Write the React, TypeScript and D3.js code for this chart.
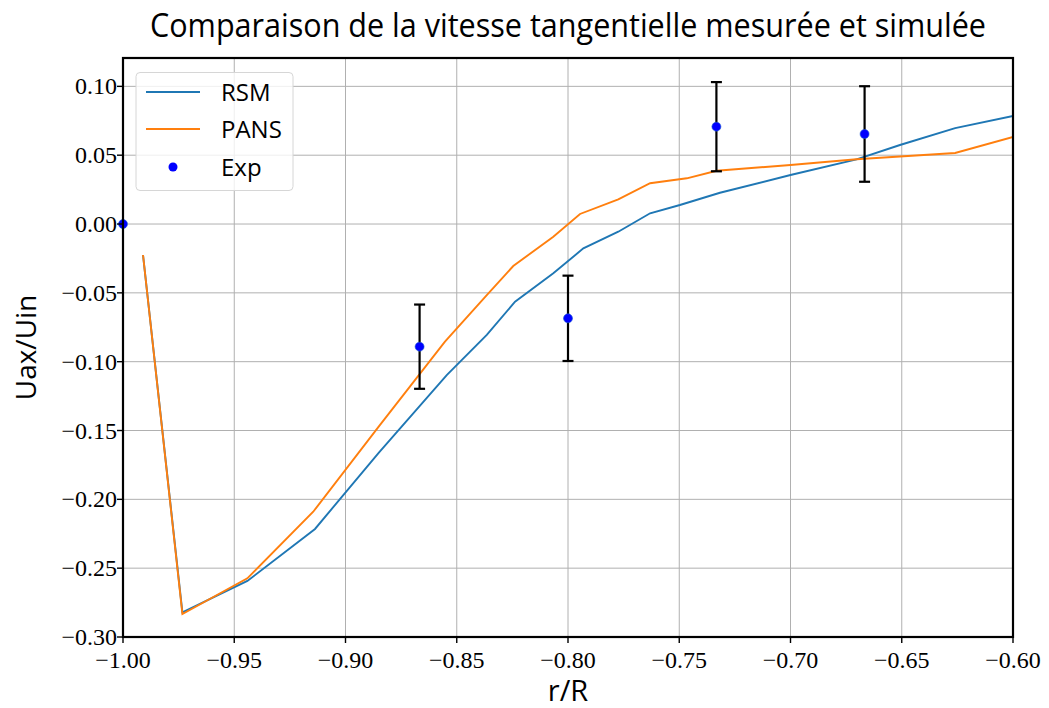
import React from "react";
import * as d3 from "d3";

const rsmX = [-0.991, -0.9733, -0.9441, -0.9137, -0.885, -0.8545, -0.8365, -0.8238, -0.8066, -0.7931, -0.7774, -0.7631, -0.7497, -0.7317, -0.70, -0.6703, -0.6508, -0.626, -0.60];
const rsmY = [-0.0225, -0.2821, -0.2593, -0.2215, -0.166, -0.1097, -0.0806, -0.0564, -0.0358, -0.0177, -0.0056, 0.0078, 0.0138, 0.0227, 0.0356, 0.047, 0.0574, 0.0697, 0.0785];
const pansX = [-0.991, -0.9733, -0.9441, -0.9145, -0.885, -0.8553, -0.8365, -0.8246, -0.8066, -0.7946, -0.7774, -0.7631, -0.7466, -0.7332, -0.70, -0.6703, -0.626, -0.60];
const pansY = [-0.0225, -0.2833, -0.2574, -0.209, -0.147, -0.0855, -0.0516, -0.0305, -0.0092, 0.0073, 0.0179, 0.0296, 0.0332, 0.0387, 0.0429, 0.047, 0.0516, 0.0632];
const expX = [-1.0, -0.8667, -0.8, -0.7333, -0.6667];
const expY = [0.0, -0.0891, -0.0685, 0.0707, 0.0654];
const expErr = [0.0, 0.0306, 0.031, 0.0324, 0.0347];
const xTicks = [-1.0, -0.95, -0.9, -0.85, -0.8, -0.75, -0.7, -0.65, -0.6];
const yTicks = [-0.3, -0.25, -0.2, -0.15, -0.1, -0.05, 0.0, 0.05, 0.1];

const W = 1049, H = 708;
const L = 123, R = 1013, T = 58, B = 637;

const fmt = (v: number) => {
  const s = Math.abs(v).toFixed(2);
  return (v < -1e-9 ? "\u2212" : "") + s;
};

export default function App() {
  const x = d3.scaleLinear().domain([-1.0, -0.6]).range([L, R]);
  const y = d3.scaleLinear().domain([-0.3, 0.1206]).range([B, T]);
  const line = d3.line<[number, number]>().x(d => x(d[0])).y(d => y(d[1]));
  const rsm = rsmX.map((v, i) => [v, rsmY[i]] as [number, number]);
  const pans = pansX.map((v, i) => [v, pansY[i]] as [number, number]);
  const serif = "'Liberation Serif', 'DejaVu Serif', serif";
  const sans = "'Open Sans', 'DejaVu Sans', sans-serif";
  return (
    <svg width={W} height={H} style={{ position: "absolute", left: 0, top: 0 }}>
      <rect width={W} height={H} fill="#fff" />
      <defs>
        <clipPath id="pc"><rect x={L} y={T} width={R - L} height={B - T} /></clipPath>
      </defs>
      {xTicks.map(t => (
        <line key={"gx" + t} x1={x(t)} x2={x(t)} y1={T} y2={B} stroke="#b0b0b0" strokeWidth={1} />
      ))}
      {yTicks.map(t => (
        <line key={"gy" + t} x1={L} x2={R} y1={y(t)} y2={y(t)} stroke="#b0b0b0" strokeWidth={1} />
      ))}
      <g clipPath="url(#pc)">
        <path d={line(rsm) || ""} fill="none" stroke="#1f77b4" strokeWidth={1.9} />
        <path d={line(pans) || ""} fill="none" stroke="#ff7f0e" strokeWidth={1.9} />
      </g>
      {expX.map((v, i) => (
        <g key={"e" + i}>
          {expErr[i] > 0 && (
            <g stroke="#000" strokeWidth={2.2}>
              <line x1={x(v)} x2={x(v)} y1={y(expY[i] - expErr[i])} y2={y(expY[i] + expErr[i])} />
              <line x1={x(v) - 5.5} x2={x(v) + 5.5} y1={y(expY[i] - expErr[i])} y2={y(expY[i] - expErr[i])} />
              <line x1={x(v) - 5.5} x2={x(v) + 5.5} y1={y(expY[i] + expErr[i])} y2={y(expY[i] + expErr[i])} />
            </g>
          )}
          <circle cx={x(v)} cy={y(expY[i])} r={4.5} fill="#0000ff" stroke="#1f5fd4" strokeWidth={0.6} />
        </g>
      ))}
      <rect x={L} y={T} width={R - L} height={B - T} fill="none" stroke="#000" strokeWidth={2.2} />
      {xTicks.map(t => (
        <g key={"tx" + t}>
          <line x1={x(t)} x2={x(t)} y1={B} y2={B + 6} stroke="#000" strokeWidth={1.4} />
          <text x={x(t)} y={B + 31} textAnchor="middle" fontFamily={serif} fontSize={24}>{fmt(t)}</text>
        </g>
      ))}
      {yTicks.map(t => (
        <g key={"ty" + t}>
          <line x1={L - 6} x2={L} y1={y(t)} y2={y(t)} stroke="#000" strokeWidth={1.4} />
          <text x={L - 6} y={y(t) + 8} textAnchor="end" fontFamily={serif} fontSize={24}>{fmt(t)}</text>
        </g>
      ))}
      <text x={(L + R) / 2 + 0} y={37} textAnchor="middle" fontFamily={sans} fontSize={32} textLength={836} lengthAdjust="spacingAndGlyphs">Comparaison de la vitesse tangentielle mesurée et simulée</text>
      <text x={(L + R) / 2} y={701} textAnchor="middle" fontFamily={sans} fontSize={29}>r/R</text>
      <text transform={`translate(36, ${(T + B) / 2}) rotate(-90)`} textAnchor="middle" fontFamily={sans} fontSize={28}>Uax/Uin</text>
      <g>
        <rect x={136} y={72.5} width={157} height={118} rx={4} fill="#fff" fillOpacity={0.8} stroke="#d6d6d6" strokeWidth={1} />
        <line x1={146} x2={200} y1={92} y2={92} stroke="#1f77b4" strokeWidth={1.9} />
        <text x={221} y={100.5} fontFamily={sans} fontSize={24}>RSM</text>
        <line x1={146} x2={200} y1={129} y2={129} stroke="#ff7f0e" strokeWidth={1.9} />
        <text x={221} y={138} fontFamily={sans} fontSize={24}>PANS</text>
        <circle cx={173} cy={167} r={4.5} fill="#0000ff" />
        <text x={221} y={176} fontFamily={sans} fontSize={24}>Exp</text>
      </g>
    </svg>
  );
}
